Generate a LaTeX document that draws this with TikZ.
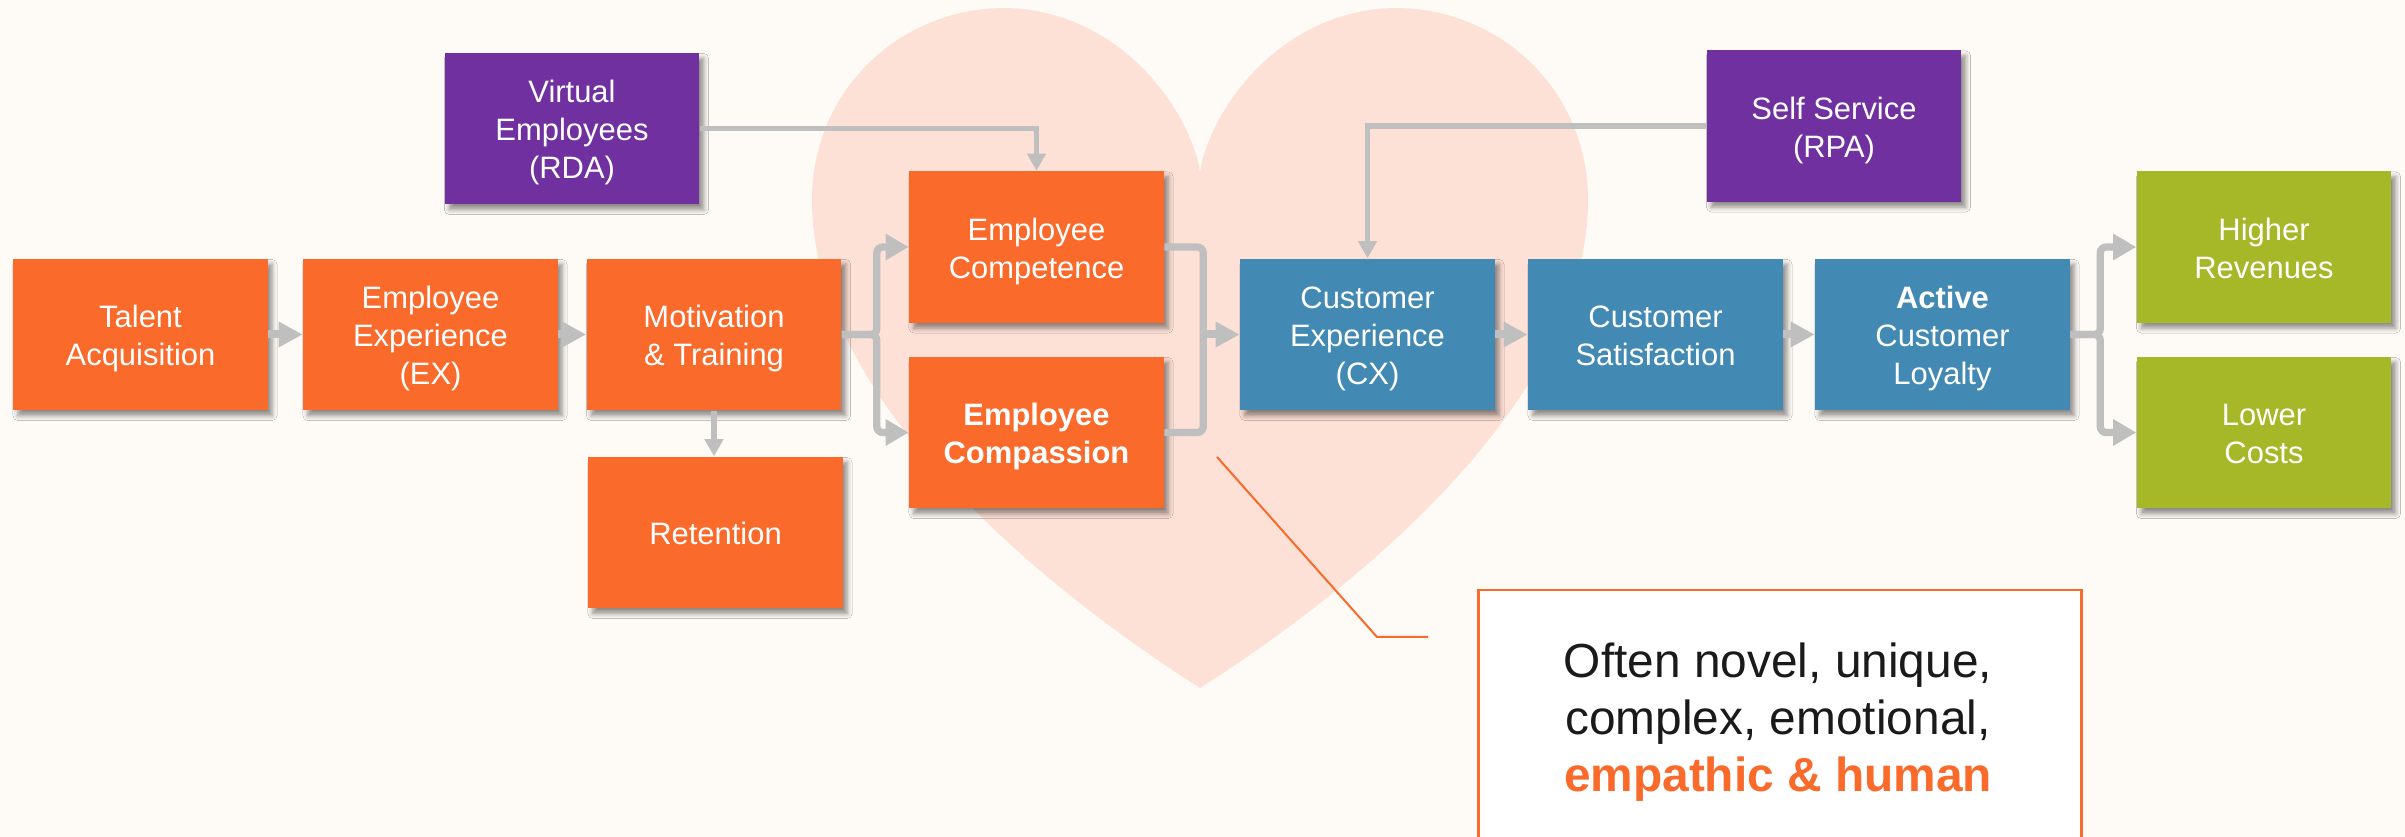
\documentclass[tikz,border=0pt]{standalone}
\usepackage{fontspec}
\setmainfont{Liberation Sans}
\usetikzlibrary{arrows.meta,shadows.blur,calc}

\definecolor{bgcol}{HTML}{FEFAF5}
\definecolor{heartcol}{HTML}{FDE1D7}
\definecolor{orangebox}{HTML}{F96A2B}
\definecolor{purplebox}{HTML}{7030A0}
\definecolor{bluebox}{HTML}{428AB4}
\definecolor{greenbox}{HTML}{A6B727}
\definecolor{arrowgray}{HTML}{BFBFBF}
\definecolor{textdark}{HTML}{1A1A1A}

% stacked, centred lines with even line pitch, set a little below the box centre
\newcommand{\boxlines}[1]{\raisebox{0pt}[\dimexpr\height+0.09cm\relax][\depth]{%
  \begin{tabular}{@{}c@{}}#1\end{tabular}}}

\tikzset{
  box/.style={rectangle, minimum width=2.54cm, minimum height=1.51cm, inner sep=0pt,
    text=white, font=\fontsize{8.8}{10.8}\selectfont,
    blur shadow={shadow xshift=0.045cm, shadow yshift=-0.055cm,
      shadow blur radius=0.05cm, shadow opacity=45}},
  obox/.style={box, fill=orangebox},
  pbox/.style={box, fill=purplebox},
  bbox/.style={box, fill=bluebox},
  gbox/.style={box, fill=greenbox},
  flow/.style={draw=arrowgray, line width=0.08cm,
    -{Triangle[length=0.24cm, width=0.24cm]}},
  branch/.style={draw=arrowgray, line width=0.073cm, rounded corners=0.06cm,
    -{Triangle[length=0.23cm, width=0.25cm]}},
  branchline/.style={draw=arrowgray, line width=0.073cm, rounded corners=0.06cm},
  feed/.style={draw=arrowgray, line width=0.055cm,
    -{Triangle[length=0.17cm, width=0.18cm]}},
  calloutline/.style={draw=orangebox, line width=0.02cm},
}

\begin{document}
\begin{tikzpicture}[x=0.01cm, y=-0.01cm]
  \useasboundingbox (0,0) rectangle (2405,837);
  \clip (0,0) rectangle (2405,837);
  \fill[bgcol] (0,0) rectangle (2405,837);

  % heart in the background
  \fill[heartcol] (1200,688)
    .. controls (1000,560) and (812,380) .. (812,200)
    .. controls (812,90) and (900,8) .. (1005,8)
    .. controls (1120,10) and (1190,110) .. (1200,172)
    .. controls (1210,110) and (1280,10) .. (1395,8)
    .. controls (1500,8) and (1588,90) .. (1588,200)
    .. controls (1588,380) and (1400,560) .. (1200,688) -- cycle;

  % employee side
  \node[obox] (ta)  at (140.5,334.5) {\boxlines{Talent\\Acquisition}};
  \node[obox] (ex)  at (430.5,334.5) {\boxlines{Employee\\Experience\\(EX)}};
  \node[obox] (mt)  at (714,334.5)   {\boxlines{Motivation\\\& Training}};
  \node[obox] (ret) at (715.5,532.5) {\boxlines{Retention}};
  \node[pbox] (ve)  at (572,128.5)   {\boxlines{Virtual\\Employees\\(RDA)}};
  \node[obox] (ecomp)  at (1036.5,247)   {\boxlines{Employee\\Competence}};
  \node[obox] (ecompa) at (1036.5,432.5) {\boxlines{\textbf{Employee}\\\textbf{Compassion}}};

  % customer side
  \node[bbox] (cx)  at (1367.5,334.5) {\boxlines{Customer\\Experience\\(CX)}};
  \node[bbox] (cs)  at (1655.5,334.5) {\boxlines{Customer\\Satisfaction}};
  \node[bbox] (acl) at (1942.5,334.5) {\boxlines{\textbf{Active}\\Customer\\Loyalty}};
  \node[pbox] (ss)  at (1834,126)     {\boxlines{Self Service\\(RPA)}};
  \node[gbox] (hr)  at (2264,247)     {\boxlines{Higher\\Revenues}};
  \node[gbox] (lc)  at (2264,432.5)   {\boxlines{Lower\\Costs}};

  % main flow
  \draw[flow] (ta.east) -- (ex.west);
  \draw[flow] (ex.east) -- (mt.west);
  \draw[feed] (mt.south) -- (mt.south |- ret.north);
  \draw[branch] (mt.east) -- ++(35,0) |- (ecomp.west);
  \draw[branch] (mt.east) -- ++(35,0) |- (ecompa.west);
  \draw[branchline] (ecomp.east) -- ++(39,0) coordinate (mj) |- (ecompa.east);
  \draw[flow] (mj |- cx.west) -- (cx.west);
  \draw[flow] (cx.east) -- (cs.west);
  \draw[flow] (cs.east) -- (acl.west);
  \draw[branch] (acl.east) -- ++(30,0) |- (hr.west);
  \draw[branch] (acl.east) -- ++(30,0) |- (lc.west);

  % automation feeds
  \draw[feed] (ve.east) -| (ecomp.north);
  \draw[feed] (ss.west) -| (cx.north);

  % callout
  \node[draw=orangebox, line width=0.025cm, fill=white, minimum width=6.03cm,
        minimum height=3.0cm, anchor=north west, inner sep=0pt] (call) at (1477,589) {};
  \node[font=\fontsize{13.6}{16.2}\selectfont, text=textdark, align=center]
    (calltext) at (1778,722)
    {Often novel, unique,\\complex, emotional,\\\textcolor{orangebox}{\textbf{empathic \& human}}};
  \coordinate (cstart) at (1217,457);
  \coordinate (cbend)  at (1377,637);
  \coordinate (cend)   at (1428,637);
  \draw[calloutline] (cstart) -- (cbend) -- (cend);
\end{tikzpicture}
\end{document}
